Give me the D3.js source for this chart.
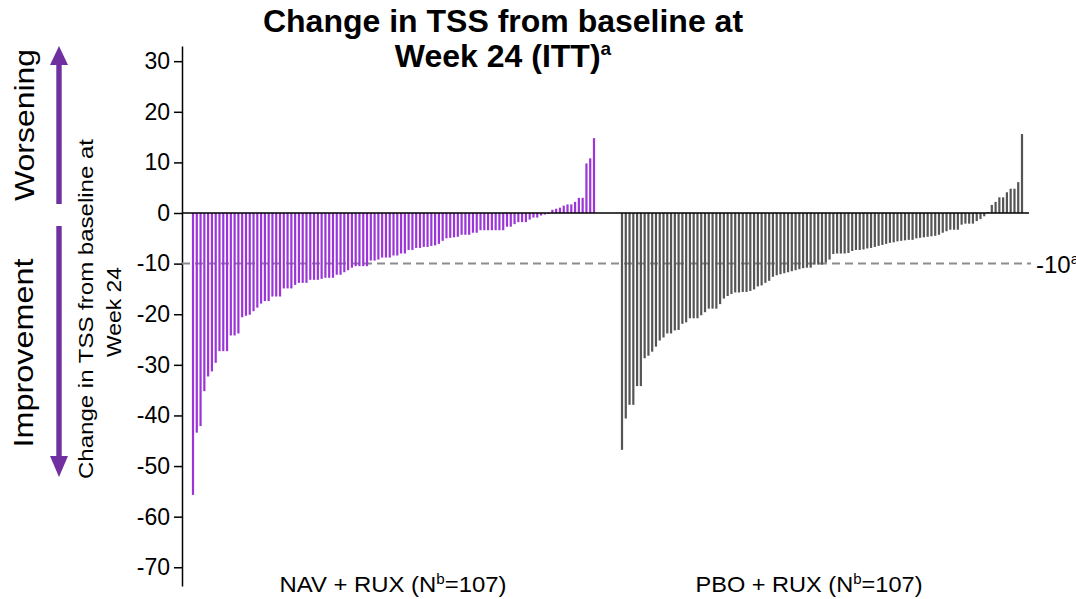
<!DOCTYPE html>
<html>
<head>
<meta charset="utf-8">
<script src="https://cdn.jsdelivr.net/npm/d3@7"></script>
<style>
  body { margin: 0; background: #fff; }
  text { font-family: "Liberation Sans", Arial, sans-serif; }
</style>
</head>
<body>
<div id="chart"></div>
<script>
// Chart values (change in TSS from baseline at week 24, sorted)
var navRux = [-55.7, -43.4, -42.1, -35.2, -32.3, -31.3, -29.6, -27.3, -27.3, -27.3,
  -24.2, -24.2, -23.8, -20.6, -20.3, -20.1, -19.4, -18.7, -17.9, -17.4,
  -17.4, -16.5, -16.5, -16.5, -14.9, -14.9, -14.9, -14.2, -13.8, -13.8,
  -13.8, -13.2, -13.2, -13.2,
  -13.0, -12.8, -12.8, -12.8, -12.2, -12.2, -11.7, -11.3, -10.8, -10.5,
  -10.5, -10.5, -10.5, -9.4, -9.4, -9.2, -8.8, -8.8, -8.8, -8.4,
  -8.4, -8.0, -8.0, -7.3, -7.3, -6.9, -6.9, -6.7, -6.7, -6.5,
  -6.4, -6.1, -5.5, -5.0, -4.9, -4.8,
  -4.7, -4.3, -4.3, -4.3, -3.9, -3.9, -3.4, -3.4, -3.4, -3.4,
  -3.4, -3.4, -3.4, -2.7, -2.7, -2.2, -1.8, -1.8, -1.8, -1.3,
  -0.9, -0.9, -0.5, -0.3, -0.2,
  0.65, 0.85, 1.05, 1.45, 1.7, 1.7, 2.2, 3.0, 3.0, 9.8, 10.8, 14.8];

var pboRux = [-46.8, -40.6, -37.9, -37.9, -34.2, -34.2, -28.7, -28.2, -27.4, -26.4,
  -25.2, -24.6, -23.8, -23.8, -23.2, -23.1, -21.9, -21.6, -20.8, -20.8,
  -20.8, -20.2, -19.6, -18.9, -18.9, -18.9, -18.0, -16.9, -16.4, -16.0,
  -15.7, -15.7, -15.6, -15.6,
  -15.4, -15.1, -14.5, -14.3, -13.8, -13.4, -12.6, -12.3, -12.1, -11.9,
  -11.7, -11.5, -11.3, -11.1, -10.9, -10.8, -10.8, -10.2, -10.2, -10.2,
  -9.8, -9.2, -8.1, -8.0, -8.0, -8.0, -7.9, -7.5, -7.3, -7.3,
  -7.2, -7.0, -6.9, -6.7, -6.5, -6.3,
  -6.1, -5.9, -5.8, -5.6, -5.5, -5.4, -5.3, -5.3, -5.0, -4.9,
  -4.8, -4.7, -4.6, -4.5, -4.3, -3.9, -3.6, -3.3, -3.3, -3.3,
  -2.3, -2.1, -2.1, -2.1, -1.6, -1.2, -0.65,
  0.2, 1.6, 2.2, 3.1, 3.1, 4.1, 4.8, 4.8, 6.1, 15.6];

var groupLabels = ["NAV + RUX (N", "PBO + RUX (N"];
var groupN = [107, 107];
var yTicks = [30, 20, 10, 0, -10, -20, -30, -40, -50, -60, -70];
var threshold = -10;

// svg size
var svgWidth = 1076;
var svgHeight = 599;

var svg = d3.select("#chart")
  .append("svg")
  .attr("width", svgWidth)
  .attr("height", svgHeight);

// y scale, axis line runs a little past the end ticks
var yScale = d3.scaleLinear()
  .domain([-73.7, 33])
  .range([586, 46]);

// x scales, one per group
var xNav = d3.scalePoint()
  .domain(d3.range(navRux.length))
  .range([193, 594]);

var xPbo = d3.scalePoint()
  .domain(d3.range(pboRux.length))
  .range([622, 1022]);

var barW = 2.2;
var axisX = 182;

// y axis (plain hyphen for negatives, like the original)
var yAxis = d3.axisLeft(yScale)
  .tickValues(yTicks)
  .tickFormat(d => String(d))
  .tickSize(8)
  .tickSizeOuter(0)
  .tickPadding(4);

var yAxisG = svg.append("g")
  .attr("transform", `translate(${axisX}, 0)`)
  .call(yAxis);

yAxisG.selectAll("text")
  .attr("font-size", "23px")
  .attr("fill", "#000")
  .style("font-family", "'Liberation Sans', Arial, sans-serif");
yAxisG.selectAll("line, path")
  .attr("stroke", "#000")
  .attr("stroke-width", 1.5);

// -10 dashed reference
svg.append("line")
  .attr("x1", axisX)
  .attr("x2", 1031)
  .attr("y1", yScale(threshold))
  .attr("y2", yScale(threshold))
  .attr("stroke", "#8c8c8c")
  .attr("stroke-width", 2)
  .attr("stroke-dasharray", "8,5");

var tLab = svg.append("text")
  .attr("x", 1036)
  .attr("y", yScale(threshold) + 9)
  .attr("font-size", "24px")
  .text(threshold);
tLab.append("tspan")
  .attr("font-size", "15px")
  .attr("dy", -9)
  .text("a");

// bars
svg.append("g").selectAll("rect")
  .data(navRux)
  .enter()
  .append("rect")
  .attr("x", (d, i) => xNav(i) - barW / 2)
  .attr("y", d => yScale(Math.max(0, d)))
  .attr("width", barW)
  .attr("height", d => Math.abs(yScale(d) - yScale(0)))
  .attr("fill", "#9b35d8");

svg.append("g").selectAll("rect")
  .data(pboRux)
  .enter()
  .append("rect")
  .attr("x", (d, i) => xPbo(i) - barW / 2)
  .attr("y", d => yScale(Math.max(0, d)))
  .attr("width", barW)
  .attr("height", d => Math.abs(yScale(d) - yScale(0)))
  .attr("fill", "#555555");

// zero line
svg.append("line")
  .attr("x1", axisX)
  .attr("x2", 1029)
  .attr("y1", yScale(0))
  .attr("y2", yScale(0))
  .attr("stroke", "#000")
  .attr("stroke-width", 1.5);

// title
var title = svg.append("g")
  .attr("font-weight", "bold")
  .attr("font-size", "32px")
  .attr("text-anchor", "middle");
title.append("text")
  .attr("x", 503)
  .attr("y", 32)
  .text("Change in TSS from baseline at");
var t2 = title.append("text")
  .attr("x", 503)
  .attr("y", 67)
  .text("Week 24 (ITT)");
t2.append("tspan")
  .attr("font-size", "19px")
  .attr("dy", -12)
  .text("a");

// y axis title (two lines, rotated)
svg.append("text")
  .attr("transform", "translate(93, 309) rotate(-90)")
  .attr("text-anchor", "middle")
  .attr("font-size", "21px")
  .attr("textLength", 340)
  .attr("lengthAdjust", "spacingAndGlyphs")
  .text("Change in TSS from baseline at");
svg.append("text")
  .attr("transform", "translate(121, 312) rotate(-90)")
  .attr("text-anchor", "middle")
  .attr("font-size", "21px")
  .attr("textLength", 90)
  .attr("lengthAdjust", "spacingAndGlyphs")
  .text("Week 24");

// worsening / improvement labels
svg.append("text")
  .attr("transform", "translate(34, 125) rotate(-90)")
  .attr("text-anchor", "middle")
  .attr("font-size", "28px")
  .attr("textLength", 152)
  .attr("lengthAdjust", "spacingAndGlyphs")
  .text("Worsening");
svg.append("text")
  .attr("transform", "translate(33, 353) rotate(-90)")
  .attr("text-anchor", "middle")
  .attr("font-size", "28px")
  .attr("textLength", 189)
  .attr("lengthAdjust", "spacingAndGlyphs")
  .text("Improvement");

// arrows
var arrowCol = "#7030a0";
var ax = 59;
svg.append("rect")
  .attr("x", ax - 2.7).attr("y", 62)
  .attr("width", 5.4).attr("height", 142)
  .attr("fill", arrowCol);
svg.append("path")
  .attr("d", `M${ax},46 L${ax + 9},65 L${ax - 9},65 Z`)
  .attr("fill", arrowCol);
svg.append("rect")
  .attr("x", ax - 2.7).attr("y", 226)
  .attr("width", 5.4).attr("height", 232)
  .attr("fill", arrowCol);
svg.append("path")
  .attr("d", `M${ax},477 L${ax + 9},456 L${ax - 9},456 Z`)
  .attr("fill", arrowCol);

// group labels under the bars
var groupCenters = [393, 809];
groupLabels.forEach(function(lab, i) {
  var t = svg.append("text")
    .attr("x", groupCenters[i])
    .attr("y", 592)
    .attr("text-anchor", "middle")
    .attr("font-size", "22px")
    .attr("textLength", 227)
    .attr("lengthAdjust", "spacingAndGlyphs")
    .text(lab);
  t.append("tspan")
    .attr("font-size", "14px")
    .attr("dy", -8)
    .text("b");
  t.append("tspan")
    .attr("dy", 8)
    .text("=" + groupN[i] + ")");
});
</script>
</body>
</html>
